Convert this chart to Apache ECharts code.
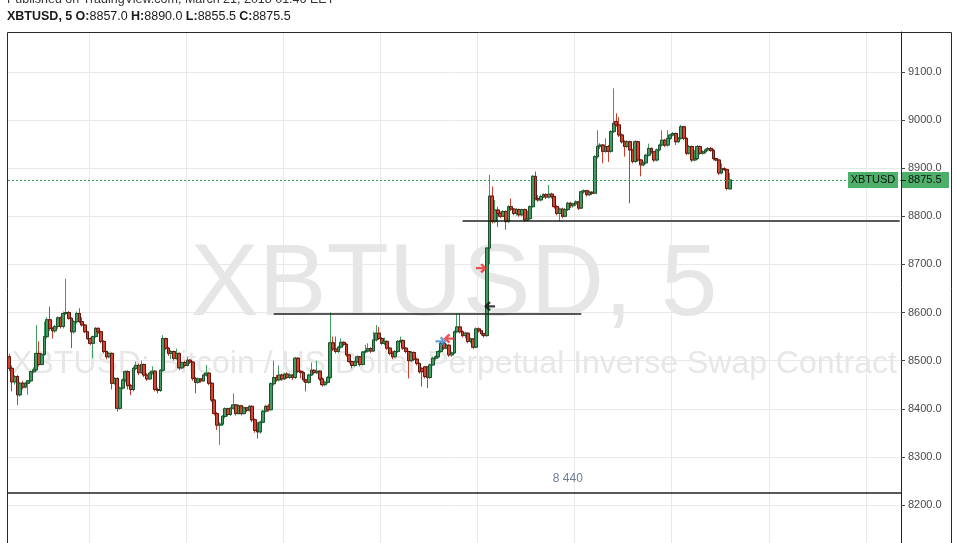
<!DOCTYPE html>
<html><head><meta charset="utf-8">
<script src="https://cdn.jsdelivr.net/npm/echarts@6/dist/echarts.min.js"></script>
<style>html,body{margin:0;padding:0;background:#fff;}#c{width:956px;height:543px;}</style>
</head><body><div id="c"></div>
<script>
// ---- DATA: 5-minute candles [open, close, low, high] ----
const seg1 = [
[8508,8484,8478,8514],[8484,8456,8436,8490],[8456,8467,8450,8470],[8467,8429,8408,8470],[8429,8453,8425,8456],
[8453,8445,8440,8458],[8445,8453,8442,8456],
[8453,8458,8429,8460],[8458,8477,8455,8480],[8477,8481,8474,8486],[8481,8515,8478,8574],[8515,8492,8488,8540],
[8492,8513,8490,8516],[8513,8550,8510,8581],[8550,8585,8546,8590],[8585,8567,8562,8612],[8567,8562,8546,8570],
[8562,8571,8558,8574],[8571,8589,8566,8592],[8589,8571,8567,8592],[8571,8598,8567,8602],[8598,8600,8595,8670],
[8600,8588,8585,8603],[8588,8560,8526,8590],[8560,8581,8556,8584],[8581,8598,8577,8602],[8598,8581,8578,8609],
[8581,8574,8571,8590],[8574,8560,8557,8576],[8560,8546,8543,8562],
[8546,8536,8532,8548],[8536,8550,8505,8552],[8550,8567,8548,8570],[8567,8560,8556,8569],[8560,8540,8536,8562],
[8540,8519,8515,8542],[8519,8508,8503,8521],[8508,8515,8505,8518],[8515,8453,8440,8517],[8453,8463,8450,8466],
[8463,8401,8394,8465],[8401,8443,8398,8446],[8443,8460,8440,8463],[8460,8477,8455,8480],[8477,8448,8440,8480]
];
const seg2 = [
[8448,8440,8428,8452],[8440,8484,8436,8488],[8484,8490,8480,8498],[8490,8475,8470,8494],[8475,8492,8472,8500],
[8492,8470,8466,8494],[8470,8462,8458,8474],[8462,8474,8460,8477],[8474,8478,8471,8488],[8478,8440,8436,8480],
[8440,8438,8432,8444],[8438,8480,8435,8482],[8480,8546,8477,8553],[8546,8526,8522,8548],[8526,8515,8510,8528],
[8515,8519,8503,8522],[8519,8505,8500,8521],[8505,8515,8502,8525],[8515,8485,8480,8517],[8485,8496,8482,8498],
[8496,8490,8486,8500],[8490,8501,8488,8508],[8501,8497,8493,8503],[8497,8463,8458,8499],[8463,8455,8432,8466],
[8455,8462,8452,8465],[8462,8458,8454,8464],[8458,8470,8456,8473],[8470,8474,8467,8491],[8474,8453,8449,8476],
[8453,8418,8414,8455],[8418,8390,8386,8420],[8390,8366,8356,8393],[8366,8368,8325,8372],[8368,8384,8364,8387],
[8384,8400,8380,8403],[8400,8388,8384,8402],[8388,8401,8385,8404],[8401,8408,8398,8432],[8408,8390,8386,8410],
[8390,8406,8388,8409],[8406,8390,8386,8408],[8390,8402,8388,8405],[8402,8397,8393,8404],[8397,8405,8394,8408],
[8405,8377,8372,8407],[8377,8355,8350,8380],[8355,8352,8338,8372]
];
const seg3 = [
[8352,8372,8348,8375],[8372,8395,8370,8398],[8395,8405,8392,8408],[8405,8398,8394,8410],[8398,8452,8396,8455],
[8452,8465,8448,8500],[8465,8460,8456,8470],[8460,8470,8457,8490],[8470,8462,8458,8473],[8462,8472,8460,8475],
[8472,8465,8462,8476],[8465,8470,8462,8474],[8470,8465,8460,8472],[8465,8505,8462,8508],[8505,8478,8474,8507],
[8478,8475,8463,8480],[8475,8460,8456,8478],[8460,8455,8436,8462],[8455,8470,8452,8473],[8470,8480,8468,8496],
[8480,8475,8471,8482],[8475,8478,8472,8500],[8478,8462,8458,8480],[8462,8450,8446,8465],[8450,8455,8447,8458],
[8455,8465,8452,8468],[8465,8537,8462,8600],[8537,8524,8520,8550],[8524,8519,8515,8550],[8519,8528,8516,8531],
[8528,8538,8525,8546],[8538,8534,8530,8540],[8534,8512,8508,8536],[8512,8498,8494,8514],[8498,8490,8484,8500],
[8490,8498,8487,8500],[8498,8508,8495,8511],[8508,8492,8488,8510],[8492,8518,8490,8520],[8518,8520,8515,8533],
[8520,8525,8517,8536],[8525,8520,8516,8528],[8520,8543,8518,8560]
];
const seg4 = [
[8543,8557,8540,8574],[8557,8546,8543,8570],[8546,8536,8533,8549],[8536,8540,8532,8548],[8540,8526,8522,8542],
[8526,8515,8511,8528],[8515,8508,8503,8520],[8508,8519,8506,8522],[8519,8540,8516,8543],[8540,8542,8536,8550],
[8542,8526,8522,8544],[8526,8519,8515,8528],[8519,8500,8463,8521],[8500,8517,8497,8520],[8517,8503,8499,8519],
[8503,8494,8490,8505],[8494,8477,8473,8496],[8484,8477,8446,8486],[8487,8467,8463,8489],[8487,8465,8443,8488],
[8465,8491,8462,8494],[8491,8505,8489,8508],[8505,8508,8500,8511],[8508,8519,8505,8522],[8519,8536,8516,8539],
[8536,8526,8522,8538],[8526,8532,8524,8535],[8532,8512,8508,8534],[8512,8516,8508,8519],[8516,8560,8514,8563],
[8560,8570,8557,8598],[8570,8560,8556,8598],[8560,8552,8548,8563],[8552,8557,8546,8560],[8557,8540,8536,8559],
[8540,8545,8536,8548],[8545,8528,8524,8547],[8528,8566,8526,8569],[8566,8562,8558,8569],[8562,8556,8552,8564],
[8556,8552,8548,8558],[8552,8734,8550,8736],[8734,8842,8700,8886]
];
const seg5 = [
[8842,8789,8785,8862],[8789,8813,8786,8834],[8813,8806,8778,8820],[8806,8800,8796,8810],[8800,8810,8798,8813],
[8810,8789,8772,8812],[8789,8820,8786,8823],[8820,8815,8811,8837],[8815,8806,8802,8817],[8806,8814,8801,8817],
[8814,8803,8799,8816],[8803,8814,8800,8816],[8814,8792,8788,8816],[8792,8795,8789,8812],[8795,8820,8793,8823],
[8820,8883,8818,8886],[8883,8837,8833,8893],[8837,8834,8830,8844],[8834,8841,8831,8845],[8841,8845,8838,8848],
[8845,8840,8836,8848],[8840,8846,8837,8865],[8846,8841,8837,8849],[8841,8820,8816,8843],[8820,8806,8802,8823],
[8806,8815,8789,8818],[8815,8800,8796,8818],[8800,8814,8798,8817],[8814,8827,8811,8830],[8827,8822,8817,8830],
[8822,8826,8818,8828],[8826,8830,8821,8833],[8830,8817,8813,8832],[8817,8851,8815,8854],[8851,8853,8847,8856],
[8853,8845,8841,8855],[8845,8850,8842,8853],[8850,8848,8844,8852],[8848,8924,8846,8927]
];
const seg6 = [
[8924,8945,8920,8979],[8945,8948,8940,8952],[8948,8935,8910,8950],[8935,8945,8932,8962],[8945,8935,8913,8948],
[8935,8976,8932,8979],[8976,8993,8973,9066],[8997,8990,8986,9014],[8990,8969,8965,9006],[8969,8955,8951,8972],
[8955,8945,8924,8958],[8945,8955,8942,8958],[8955,8938,8827,8957],[8938,8914,8910,8940],[8914,8955,8911,8958],
[8955,8917,8913,8957],[8917,8907,8883,8919],[8907,8911,8904,8914],[8911,8927,8908,8930],[8927,8941,8924,8951],
[8941,8934,8930,8943],[8934,8917,8913,8936],[8917,8938,8914,8941],[8938,8948,8935,8951],[8948,8958,8945,8979],
[8958,8948,8944,8961],[8948,8962,8945,8979],[8962,8969,8959,8972],[8969,8972,8966,8975],[8972,8955,8948,8974],
[8955,8962,8952,8965],[8962,8986,8959,8990],[8986,8962,8958,8988],[8962,8931,8927,8964],[8931,8945,8928,8948],
[8945,8917,8913,8947],[8917,8920,8914,8938],[8920,8945,8917,8948],[8945,8931,8928,8947],[8931,8934,8928,8937],
[8934,8938,8930,8941],[8938,8941,8935,8944],[8941,8937,8934,8944],[8937,8920,8916,8940],[8920,8917,8914,8922],
[8917,8890,8886,8919],[8890,8899,8887,8910],[8899,8897,8894,8902],[8897,8858,8854,8899],[8857,8875.5,8855.5,8890]
];
const candles = seg1.concat(seg2, seg3, seg4, seg5, seg6);

// time slots (5 min) incl. empty right margin
const slotCount = 331;
const startMinutes = 3 * 60 + 30; // Mar 20, 03:30
const categories = [];
for (let i = 0; i < slotCount; i++) {
  const m = startMinutes + 5 * i;
  const day = 20 + Math.floor(m / 1440);
  const hh = Math.floor((m % 1440) / 60), mm = m % 60;
  categories.push('Mar ' + day + ' ' + String(hh).padStart(2, '0') + ':' + String(mm).padStart(2, '0'));
}
const yTicks = [8200, 8300, 8400, 8500, 8600, 8700, 8800, 8900, 9000, 9100];
const yMin = 8121, yMax = 9183;

// drawings (data coords)
const hLines = [ // [startIndex, endIndex, price]
  [168, 330, 8790],
  [98, 212, 8597]
];
const fullLines = [8225];
const levelText = { text: '8 440', index: 207, price: 8254 };
const arrows = [ // [index, price, direction, color]
  [160, 8540, 'right', '#3b87d4'],
  [163, 8546, 'left', '#f0262a'],
  [175, 8692, 'right', '#f0262a'],
  [178, 8613, 'left', '#111111']
];

const last = candles[candles.length - 1];
const symbolName = 'XBTUSD';

const upFill = '#3f9d61', downFill = '#d8432f';
const upBorder = '#1f5131', downBorder = '#5b1a13';
const upWick = '#3f9d61', downWick = '#cc3d2c';

const chart = echarts.init(document.getElementById('c'), null, { renderer: 'canvas' });
const FONT = '"Liberation Sans", Arial, sans-serif';

const bodies = candles.map(c => [c[0], c[1], Math.min(c[0], c[1]), Math.max(c[0], c[1])]);

const markData = [
  { yAxis: last[1], lineStyle: { type: [2, 2], color: '#2e9e57', width: 1 } }
];
hLines.forEach(l => markData.push([{ coord: [categories[l[0]], l[2]] }, { coord: [categories[l[1]], l[2]] }]));
fullLines.forEach(v => markData.push({ yAxis: v }));

const leftArrow = 'path://M0,5 L5,0 L6.8,1.8 L4.4,4 L11,4 L11,6.2 L4.4,6.2 L6.8,8.2 L5,10 Z';

chart.setOption({
  animation: false,
  backgroundColor: '#ffffff',
  grid: { left: 8, top: 32, width: 893, height: 511, containLabel: false },
  xAxis: {
    type: 'category', data: categories, boundaryGap: true,
    axisLine: { show: false }, axisTick: { show: false }, axisLabel: { show: false },
    splitLine: { show: true, interval: (i) => (i - 30) % 36 === 0, lineStyle: { color: '#e9e9e9', width: 1 } }
  },
  yAxis: {
    type: 'value', position: 'right', min: yMin, max: yMax, splitNumber: 10,
    axisLine: { show: true, lineStyle: { color: '#222', width: 1 } },
    axisTick: { show: true, length: 4, lineStyle: { color: '#444' } },
    axisLabel: {
      show: true, margin: 7, color: '#4a4a4a', fontSize: 11, fontFamily: FONT,
      showMaxLabel: false, showMinLabel: false,
      formatter: v => (yTicks.indexOf(v) >= 0 ? v.toFixed(1) : '')
    },
    splitLine: { show: true, lineStyle: { color: '#e9e9e9', width: 1 } }
  },
  series: [
    {
      type: 'candlestick', name: 'wicks', data: candles, barWidth: 3.3, z: 3, silent: true,
      itemStyle: { color: upWick, color0: downWick, borderColor: upWick, borderColor0: downWick, borderWidth: 1 }
    },
    {
      type: 'candlestick', name: 'bodies', data: bodies, barWidth: 3.3, z: 4, silent: true,
      itemStyle: { color: upFill, color0: downFill, borderColor: upBorder, borderColor0: downBorder, borderWidth: 1 },
      markLine: {
        silent: true, animation: false, symbol: ['none', 'none'], label: { show: false },
        lineStyle: { color: '#222222', width: 1.5, type: 'solid' },
        data: markData
      }
    },
    {
      type: 'scatter', name: 'arrows', z: 6, silent: true,
      data: arrows.map(a => ({
        value: [categories[a[0]], a[1]],
        symbol: leftArrow, symbolSize: [11, 10], symbolRotate: a[2] === 'right' ? 180 : 0,
        itemStyle: { color: a[3] }
      }))
    }
  ]
});

// graphic overlays computed from data coordinates
const py = Math.round(chart.convertToPixel({ yAxisIndex: 0 }, last[1]));
const gridRight = 8 + 893;
const lt = chart.convertToPixel({ seriesIndex: 1 }, [categories[levelText.index], levelText.price]);
const f = (v) => v.toFixed(1);

chart.setOption({
  graphic: [
    { type: 'text', z: 1, x: 454, y: 287, silent: true,
      style: { text: 'XBTUSD, 5', font: 'normal 102px ' + FONT, fill: '#e6e6e6', textAlign: 'center', textVerticalAlign: 'middle' } },
    { type: 'text', z: 1, x: 454, y: 364, silent: true,
      style: { text: 'XBTUSD: Bitcoin / US Dollar Perpetual Inverse Swap Contract', font: 'normal 32px ' + FONT, fill: '#e7e7e7', textAlign: 'center', textVerticalAlign: 'middle' } },
    { type: 'text', z: 50, x: lt[0], y: lt[1], silent: true,
      style: { text: levelText.text, font: 'normal 12px ' + FONT, fill: '#6c8096', textAlign: 'center', textVerticalAlign: 'middle' } },
    { type: 'rect', z: 50, silent: true, shape: { x: 7.5, y: 32.5, width: 944, height: 530 },
      style: { fill: 'none', stroke: '#2a2a2a', lineWidth: 1 } },
    { type: 'rect', z: 60, silent: true, shape: { x: gridRight - 53, y: py - 8, width: 50, height: 16 },
      style: { fill: '#4db06a' } },
    { type: 'text', z: 61, silent: true, x: gridRight - 28, y: py,
      style: { text: symbolName, font: 'normal 11px ' + FONT, fill: '#111', textAlign: 'center', textVerticalAlign: 'middle' } },
    { type: 'rect', z: 60, silent: true, shape: { x: gridRight + 1, y: py - 8, width: 47, height: 16 },
      style: { fill: '#4db06a' } },
    { type: 'line', z: 61, silent: true, shape: { x1: gridRight + 1, y1: py + 0.5, x2: gridRight + 5, y2: py + 0.5 },
      style: { stroke: '#1a1a1a', lineWidth: 1 } },
    { type: 'text', z: 61, silent: true, x: gridRight + 7, y: py,
      style: { text: f(last[1]), font: 'normal 11px ' + FONT, fill: '#111', textAlign: 'left', textVerticalAlign: 'middle' } },
    { type: 'text', z: 70, silent: true, x: 7, y: 0,
      style: { text: 'Published on TradingView.com, March 21, 2018 01:46 EET', font: 'normal 12.5px ' + FONT, fill: '#333', textAlign: 'left', textVerticalAlign: 'middle' } },
    { type: 'text', z: 70, silent: true, x: 7, y: 17,
      style: {
        text: '{b|XBTUSD, 5} {b|O:}{n|' + f(last[0]) + '} {b|H:}{n|' + f(last[3]) + '} {b|L:}{n|' + f(last[2]) + '} {b|C:}{n|' + f(last[1]) + '}',
        textAlign: 'left', textVerticalAlign: 'middle',
        rich: {
          b: { fontFamily: FONT, fontSize: 12.5, fontWeight: 'bold', fill: '#1a1a1a' },
          n: { fontFamily: FONT, fontSize: 12.5, fontWeight: 'normal', fill: '#1a1a1a' }
        }
      } }
  ]
});
</script>
</body></html>
